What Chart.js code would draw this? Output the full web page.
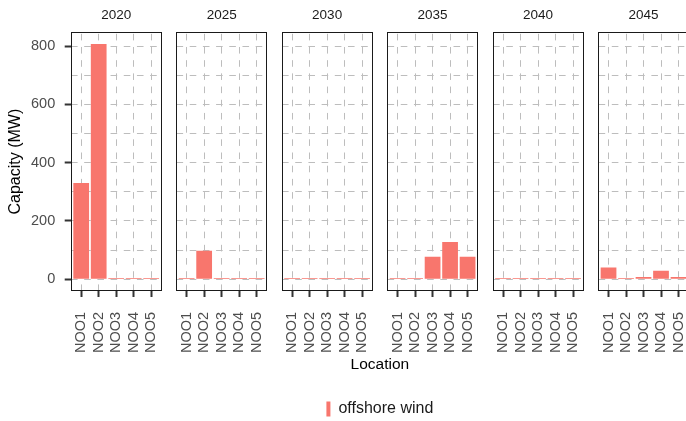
<!DOCTYPE html>
<html>
<head>
<meta charset="utf-8">
<script src="https://cdn.jsdelivr.net/npm/chart.js@4/dist/chart.umd.min.js"></script>
<style>
  html, body { margin: 0; padding: 0; background: #ffffff; overflow: hidden; width: 686px; height: 421px; }
  #wrap { position: absolute; left: 0; top: 0; width: 690px; height: 427px; }
  canvas { display: block; }
</style>
</head>
<body>
<div id="wrap"><canvas id="chart" width="690" height="427"></canvas></div>
<script>
// Installed offshore wind capacity per bidding zone, one facet per year
const years = ['2020', '2025', '2030', '2035', '2040', '2045'];
const locations = ['NOO1', 'NOO2', 'NOO3', 'NOO4', 'NOO5'];
const capacity2020 = [330, 807, 4, 4, 4];
const capacity2025 = [4, 98, 4, 4, 4];
const capacity2030 = [4, 4, 4, 4, 4];
const capacity2035 = [4, 4, 77, 128, 77];
const capacity2040 = [4, 4, 4, 4, 4];
const capacity2045 = [40, 4, 8, 29, 8];
const yTickValues = [0, 200, 400, 600, 800];
const yGridValues = [0, 100, 200, 300, 400, 500, 600, 700, 800];
const seriesLabel = 'offshore wind';

const capacityByYear = [capacity2020, capacity2025, capacity2030, capacity2035, capacity2040, capacity2045];

// Facet geometry in x-units: each panel spans 0.4..5.6 around categories 1..5
const PANEL_STRIDE = 6.0286;
const PAD = 0.6;
const nCat = locations.length;
const dataMax = Math.max(...capacityByYear.flat());
const yExpand = dataMax * 0.05;

const points = [];
const xTickValues = [];
capacityByYear.forEach((vals, p) => {
  vals.forEach((v, c) => {
    const xv = p * PANEL_STRIDE + c + 1;
    points.push({ x: xv, y: v });
    xTickValues.push(xv);
  });
});

const panelLeft = p => p * PANEL_STRIDE + 1 - PAD;
const panelRight = p => p * PANEL_STRIDE + nCat + PAD;

const DASH = 6.595;
const GRID = '#bdbdbd';
const FONT = '"Liberation Sans", Arial, Helvetica, sans-serif';
Chart.defaults.font.family = FONT;

// Blank out the spaces between facets, then draw panel frames and strip labels
const facetPlugin = {
  id: 'facets',
  beforeDatasetsDraw(chart) {
    const { ctx, chartArea, scales: { x } } = chart;
    ctx.save();
    ctx.fillStyle = '#ffffff';
    for (let p = 0; p < years.length - 1; p++) {
      const r = x.getPixelForValue(panelRight(p));
      const l = x.getPixelForValue(panelLeft(p + 1));
      ctx.fillRect(r, chartArea.top - 1, l - r, chartArea.bottom - chartArea.top + 1);
    }
    ctx.restore();
  },
  afterDatasetsDraw(chart) {
    const { ctx, chartArea, scales: { x } } = chart;
    ctx.save();
    ctx.strokeStyle = '#1a1a1a';
    ctx.lineWidth = 1;
    years.forEach((yr, p) => {
      const l = Math.round(x.getPixelForValue(panelLeft(p))) + 0.5;
      const r = Math.round(x.getPixelForValue(panelRight(p))) - 0.5;
      const t = Math.round(chartArea.top) + 0.5;
      const b = Math.round(chartArea.bottom) - 0.5;
      ctx.strokeRect(l, t, r - l, b - t);
    });
    ctx.fillStyle = '#1a1a1a';
    ctx.font = '13.5px ' + FONT;
    ctx.textAlign = 'center';
    ctx.textBaseline = 'middle';
    years.forEach((yr, p) => {
      const cx = x.getPixelForValue(p * PANEL_STRIDE + (nCat + 1) / 2);
      ctx.fillText(yr, cx, 15);
    });
    ctx.restore();
  }
};

new Chart(document.getElementById('chart'), {
  type: 'bar',
  data: {
    datasets: [{
      label: seriesLabel,
      data: points,
      backgroundColor: '#F8766D',
      borderWidth: 0,
      categoryPercentage: 1,
      barPercentage: 0.9
    }]
  },
  options: {
    responsive: false,
    maintainAspectRatio: false,
    animation: false,
    layout: { padding: { top: 32.3, right: 1, bottom: 0, left: 0 } },
    plugins: {
      tooltip: { enabled: false },
      title: { display: false },
      legend: {
        display: true,
        position: 'bottom',
        fullSize: false,
        labels: {
          boxWidth: 4,
          boxHeight: 15,
          padding: 4,
          color: '#1a1a1a',
          font: { size: 16, family: FONT }
        }
      }
    },
    scales: {
      x: {
        type: 'linear',
        offset: false,
        min: panelLeft(0),
        max: panelRight(years.length - 1),
        afterBuildTicks(scale) {
          scale.ticks = xTickValues.map(v => ({ value: v }));
        },
        afterFit(scale) {
          scale.height = 106;
          scale.paddingLeft = 0;
          scale.paddingRight = 0;
        },
        ticks: {
          autoSkip: false,
          minRotation: 90,
          maxRotation: 90,
          padding: 15,
          color: '#4d4d4d',
          font: { size: 14.5, family: FONT },
          callback: (value, index) => locations[index % nCat]
        },
        grid: {
          offset: false,
          z: -1,
          color: GRID,
          lineWidth: 1,
          tickLength: 6,
          tickWidth: 2,
          tickColor: '#333333'
        },
        border: { display: false, dash: [DASH, DASH], dashOffset: 11.69 },
        title: {
          display: true,
          text: 'Location',
          color: '#000000',
          font: { size: 15.5, family: FONT },
          padding: { top: 0, bottom: 23.4 }
        }
      },
      y: {
        type: 'linear',
        min: -yExpand,
        max: dataMax + yExpand,
        afterBuildTicks(scale) {
          scale.ticks = yGridValues.map(v => ({ value: v }));
        },
        afterFit(scale) {
          scale.width = 70.7;
          scale.paddingTop = 0;
          scale.paddingBottom = 0;
        },
        ticks: {
          padding: 9.5,
          color: '#4d4d4d',
          font: { size: 14.5, family: FONT },
          callback: value => (yTickValues.includes(value) ? String(value) : '')
        },
        grid: {
          z: -1,
          color: GRID,
          lineWidth: 1,
          tickLength: 6,
          tickWidth: 2,
          tickColor: ctx => (ctx.tick && yTickValues.includes(ctx.tick.value) ? '#333333' : 'rgba(0,0,0,0)')
        },
        border: { display: false, dash: [DASH, DASH], dashOffset: 0 },
        title: {
          display: true,
          text: 'Capacity (MW)',
          color: '#000000',
          font: { size: 16, family: FONT },
          padding: { top: 6, bottom: 0 }
        }
      }
    }
  },
  plugins: [facetPlugin]
});
</script>
</body>
</html>
